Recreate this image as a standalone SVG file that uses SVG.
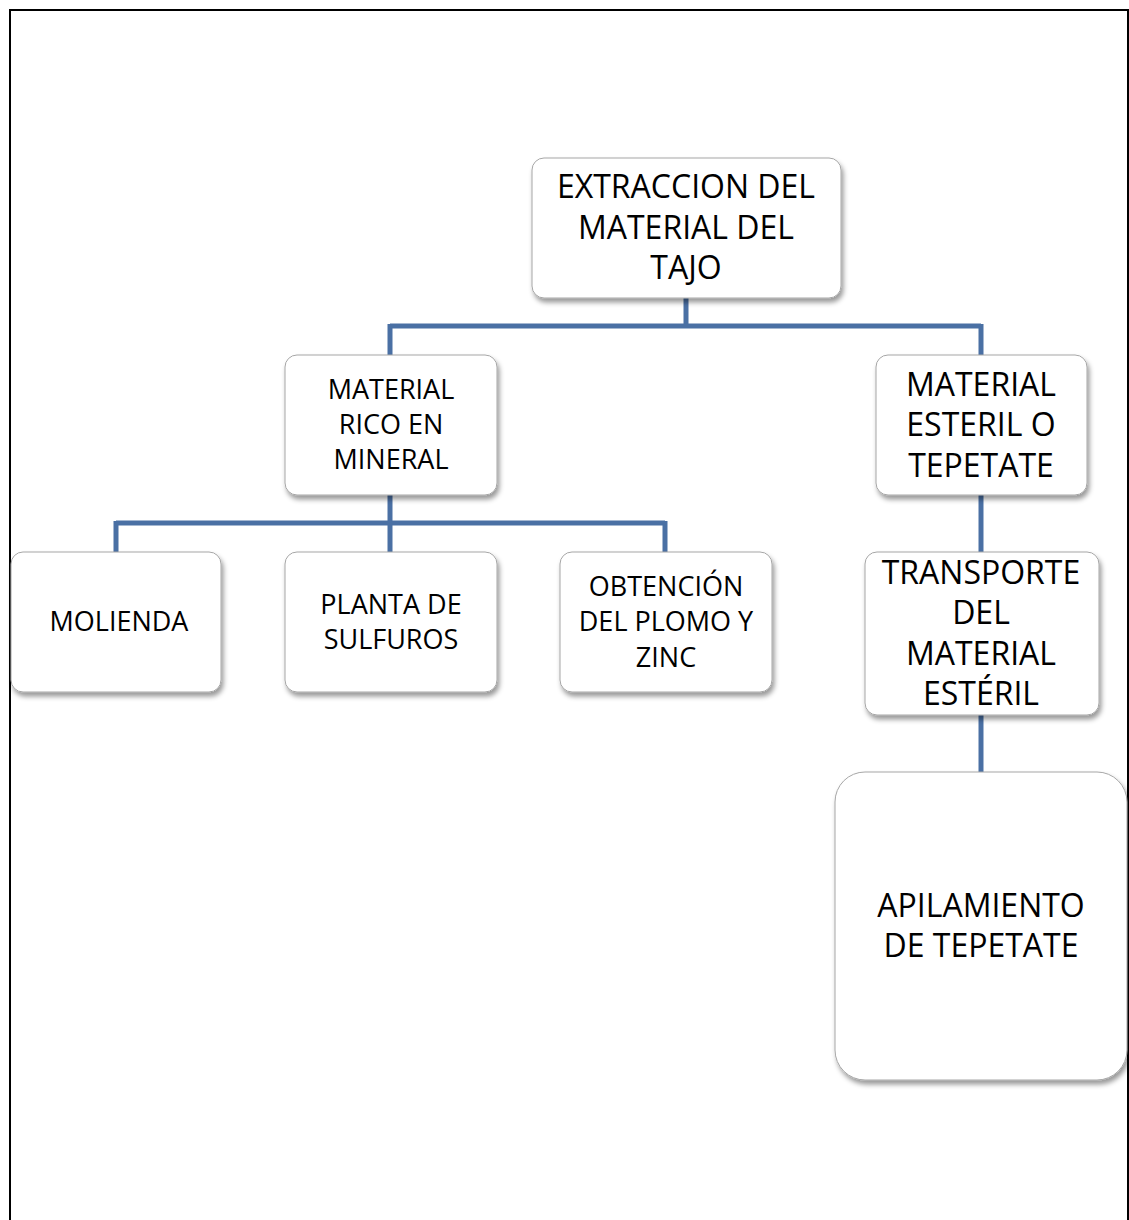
<svg xmlns="http://www.w3.org/2000/svg" width="1129" height="1220" viewBox="0 0 1129 1220">
<defs>
<filter id="sh" x="-10%" y="-10%" width="125%" height="130%">
<feDropShadow dx="2" dy="4" stdDeviation="2.5" flood-color="#000" flood-opacity="0.4"/>
</filter>
<style>
.box{fill:#fff;stroke:#a6a6a6;stroke-width:1;filter:url(#sh)}
.t{font-family:"Open Sans","Liberation Sans",sans-serif;fill:#000;text-anchor:middle}
.s{font-size:27px}
.l{font-size:32px}
.c{fill:none;stroke:#4a70a4;stroke-width:5}
</style>
</defs>
<rect x="0" y="0" width="1129" height="1220" fill="#fff"/>
<rect x="10" y="10" width="1118" height="1220" fill="none" stroke="#000" stroke-width="2"/>
<g id="connectors">
<path class="c" d="M686 298V326M390 326H981M390 324V355M981 324V355"/>
<path class="c" d="M390 495V523M116 523H665M116 521V552M390 521V552M665 521V552"/>
<path class="c" d="M981 495V552"/>
<path class="c" d="M981 715V772"/>
</g>
<g id="n1"><rect class="box" x="532" y="158" width="309" height="140" rx="12"/>
<text class="t l"><tspan x="686" y="198">EXTRACCION DEL</tspan><tspan x="686" y="239">MATERIAL DEL</tspan><tspan x="686" y="279">TAJO</tspan></text></g>
<g id="n2"><rect class="box" x="285" y="355" width="212" height="140" rx="12"/>
<text class="t s"><tspan x="391" y="399">MATERIAL</tspan><tspan x="391" y="434">RICO EN</tspan><tspan x="391" y="469">MINERAL</tspan></text></g>
<g id="n3"><rect class="box" x="876" y="355" width="211" height="140" rx="12"/>
<text class="t l"><tspan x="981" y="396">MATERIAL</tspan><tspan x="981" y="436">ESTERIL O</tspan><tspan x="981" y="477">TEPETATE</tspan></text></g>
<g id="n4"><rect class="box" x="11" y="552" width="210" height="140" rx="12"/>
<text class="t s"><tspan x="119" y="631">MOLIENDA</tspan></text></g>
<g id="n5"><rect class="box" x="285" y="552" width="212" height="140" rx="12"/>
<text class="t s"><tspan x="391" y="614">PLANTA DE</tspan><tspan x="391" y="649">SULFUROS</tspan></text></g>
<g id="n6"><rect class="box" x="560" y="552" width="212" height="140" rx="12"/>
<text class="t s"><tspan x="666" y="596">OBTENCIÓN</tspan><tspan x="666" y="631">DEL PLOMO Y</tspan><tspan x="666" y="667">ZINC</tspan></text></g>
<g id="n7"><rect class="box" x="865" y="552" width="234" height="163" rx="12"/>
<text class="t l"><tspan x="981" y="584">TRANSPORTE</tspan><tspan x="981" y="624">DEL</tspan><tspan x="981" y="665">MATERIAL</tspan><tspan x="981" y="705">ESTÉRIL</tspan></text></g>
<g id="n8"><rect class="box" x="835" y="772" width="292" height="308" rx="30"/>
<text class="t l"><tspan x="981" y="917">APILAMIENTO</tspan><tspan x="981" y="957">DE TEPETATE</tspan></text></g>
</svg>
